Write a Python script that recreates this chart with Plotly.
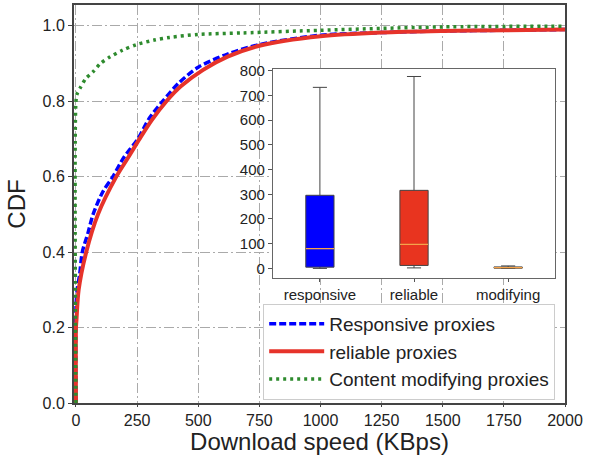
import plotly.graph_objects as go

# ---------------- CDF data ----------------
resp_x = [0, 0, 5, 15, 26, 49, 70, 110, 151, 195, 253, 300, 355, 420, 500, 620, 750, 1000, 1250, 1500, 1750, 2000]
resp_y = [0, 0.25, 0.30, 0.34, 0.40, 0.45, 0.50, 0.56, 0.60, 0.65, 0.70, 0.755, 0.80, 0.848, 0.890, 0.925, 0.950, 0.975, 0.982, 0.986, 0.988, 0.990]

rel_x = [0, 0, 2, 11, 42, 90, 165, 213, 260, 310, 370, 430, 520, 620, 750, 1000, 1250, 1500, 1750, 2000]
rel_y = [0, 0.20, 0.22, 0.30, 0.40, 0.50, 0.60, 0.65, 0.70, 0.75, 0.80, 0.84, 0.883, 0.918, 0.947, 0.972, 0.982, 0.986, 0.988, 0.990]

mod_x = [0, 0, 5, 18, 40, 70, 100, 138, 190, 247, 320, 383, 500, 683, 1000, 1250, 1500, 2000]
mod_y = [0, 0.80, 0.82, 0.836, 0.86, 0.878, 0.90, 0.917, 0.935, 0.950, 0.962, 0.969, 0.977, 0.981, 0.988, 0.993, 0.997, 0.999]

x_ticks = [0, 250, 500, 750, 1000, 1250, 1500, 1750, 2000]
y_ticks = [0.0, 0.2, 0.4, 0.6, 0.8, 1.0]

# ---------------- Box-plot data (inset) ----------------
box_cats = ["responsive", "reliable", "modifying"]
box_pos = [1, 2, 3]
box_lower = [0, 2, 0]
box_q1 = [5, 12, 1]
box_median = [80, 97, 3]
box_q3 = [296, 316, 6]
box_upper = [733, 777, 10]
inset_ticks = [0, 100, 200, 300, 400, 500, 600, 700, 800]

legend_names = ["Responsive proxies", "reliable proxies", "Content modifying proxies"]

BLUE = "#0000ff"
RED = "#e6332a"
GREEN = "#2e8b2e"
box_fill = ["#0000ff", "#e8341f", "#d08a4a"]
MEDIAN = "#f5a34a"

fig = go.Figure()

# main CDF lines
fig.add_trace(go.Scatter(x=resp_x, y=resp_y, mode="lines", name=legend_names[0],
                         line=dict(color=BLUE, width=3.5, dash="7px,3px", shape="spline", smoothing=0.8)))
fig.add_trace(go.Scatter(x=rel_x, y=rel_y, mode="lines", name=legend_names[1],
                         line=dict(color=RED, width=4, shape="spline", smoothing=0.8)))
fig.add_trace(go.Scatter(x=mod_x, y=mod_y, mode="lines", name=legend_names[2],
                         line=dict(color=GREEN, width=3.5, dash="3px,4px", shape="spline", smoothing=0.8)))

# inset boxes
for i in range(len(box_cats)):
    fig.add_trace(go.Box(x=[box_pos[i]], q1=[box_q1[i]], median=[box_median[i]], q3=[box_q3[i]],
                         lowerfence=[box_lower[i]], upperfence=[box_upper[i]],
                         width=0.3, whiskerwidth=0.5, fillcolor=box_fill[i],
                         line=dict(color="#444444", width=1), boxpoints=False,
                         xaxis="x2", yaxis="y2", showlegend=False, hoverinfo="skip"))
    fig.add_trace(go.Scatter(x=[box_pos[i] - 0.15, box_pos[i] + 0.15],
                             y=[box_median[i], box_median[i]], mode="lines",
                             line=dict(color=MEDIAN, width=1.2),
                             xaxis="x2", yaxis="y2", showlegend=False, hoverinfo="skip"))

FONT = "Liberation Sans, Arial, sans-serif"

fig.update_layout(
    width=592, height=455,
    margin=dict(l=74, r=27, t=5, b=52, autoexpand=False),
    paper_bgcolor="white", plot_bgcolor="white",
    font=dict(family=FONT, color="#222222", size=16),
    xaxis=dict(range=[-8, 2000], tickvals=x_ticks, ticks="outside", ticklen=2, tickcolor="#444",
               showline=True, mirror=True, linecolor="#444444", linewidth=2,
               showgrid=True, gridcolor="#aaaaaa", gridwidth=1, griddash="10px,3px,2px,3px",
               zeroline=False, tickfont=dict(size=16), automargin=False,
               title=dict(text="Download speed (KBps)", font=dict(size=24), standoff=5)),
    yaxis=dict(range=[0, 1.055], tickvals=y_ticks, tickformat=".1f", ticks="outside", ticklen=4,
               tickcolor="#444", showline=True, mirror=True, linecolor="#444444", linewidth=2,
               showgrid=True, gridcolor="#aaaaaa", gridwidth=1, griddash="10px,3px,2px,3px",
               zeroline=False, tickfont=dict(size=16), automargin=False,
               title=dict(text="CDF", font=dict(size=24), standoff=10)),
    xaxis2=dict(domain=[0.405, 0.98], anchor="y2", range=[0.5, 3.5], tickvals=box_pos,
                ticktext=box_cats, ticks="outside", ticklen=3, tickcolor="#555",
                showline=True, mirror=True, linecolor="#666666", linewidth=1,
                showgrid=False, zeroline=False, tickfont=dict(size=15), automargin=False),
    yaxis2=dict(domain=[0.314, 0.839], anchor="x2", range=[-39, 807], tickvals=inset_ticks,
                ticks="outside", ticklen=4, tickcolor="#555",
                showline=True, mirror=True, linecolor="#666666", linewidth=1,
                showgrid=False, zeroline=False, tickfont=dict(size=15), automargin=False),
    legend=dict(x=0.98, y=0.008, xanchor="right", yanchor="bottom",
                bgcolor="white", bordercolor="#cccccc", borderwidth=1,
                font=dict(size=19, color="#222222"), itemwidth=55, tracegroupgap=0),
    showlegend=True,
)

fig.write_html("out.html", config={"displayModeBar": False},
               post_script="document.body.style.margin='0';")
